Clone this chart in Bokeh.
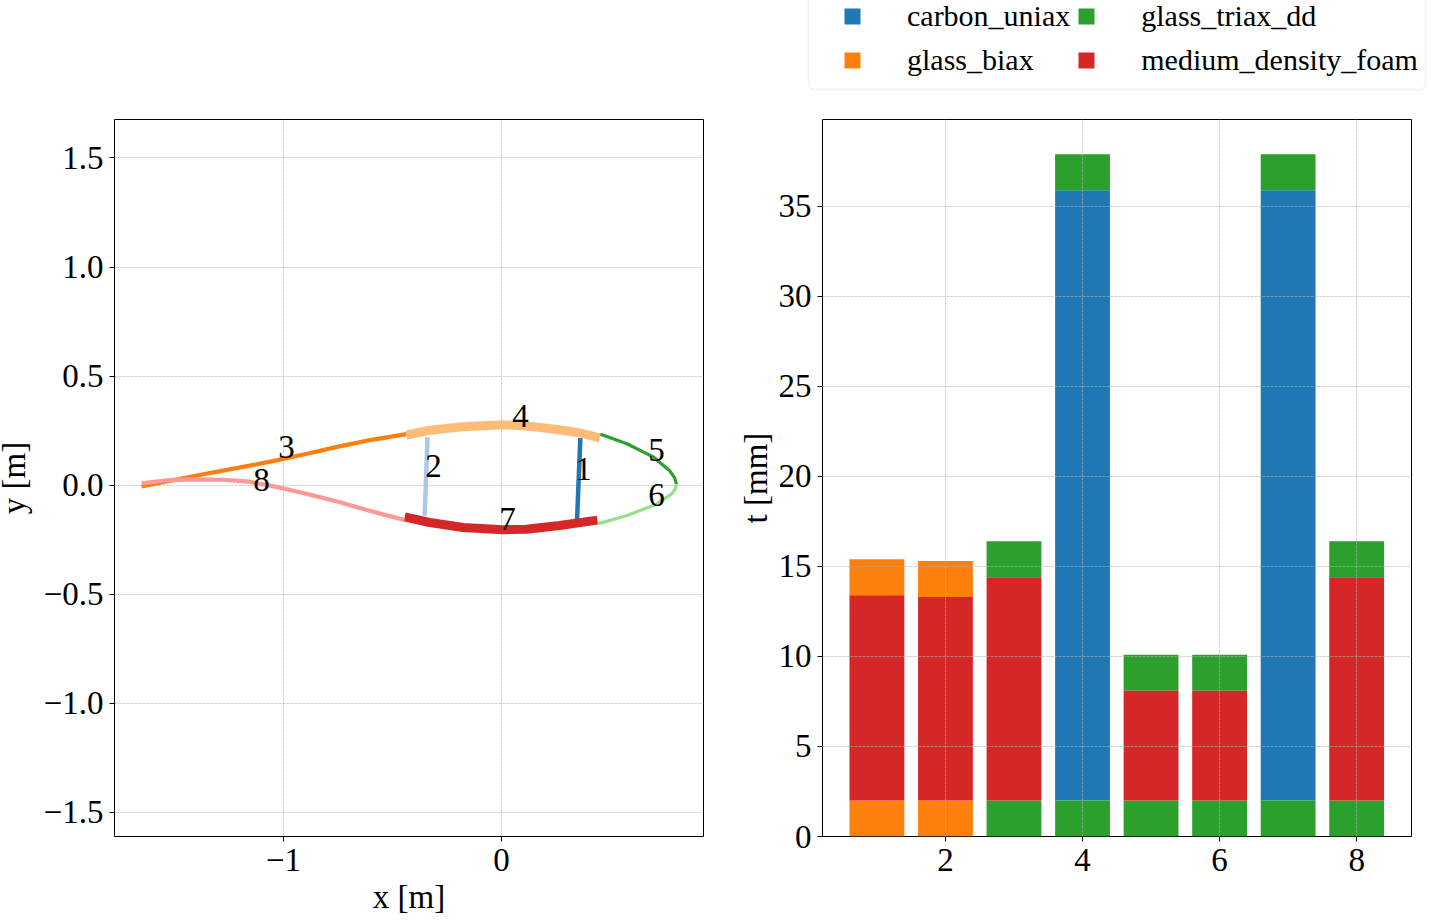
from bokeh.plotting import figure
from bokeh.layouts import row, column
from bokeh.models import FixedTicker, Legend, LegendItem, Range1d, BoxAnnotation
from bokeh.core.properties import value
from bokeh.embed import file_html
from bokeh.resources import INLINE

FONT = "Liberation Serif"

seg1_x = [0.362, 0.347]
seg1_y = [0.216, -0.158]
seg2_x = [-0.339, -0.352]
seg2_y = [0.219, -0.140]
seg3_x = [-1.651, -1.522, -1.368, -1.216, -1.055, -0.902, -0.749, -0.596, -0.436]
seg3_y = [-0.006, 0.020, 0.050, 0.078, 0.109, 0.142, 0.177, 0.208, 0.234]
seg4_x = [-0.436, -0.329, -0.176, 0.008, 0.115, 0.267, 0.367, 0.451]
seg4_y = [0.229, 0.252, 0.268, 0.277, 0.271, 0.254, 0.238, 0.217]
seg5_x = [0.454, 0.573, 0.696, 0.772, 0.794, 0.803]
seg5_y = [0.234, 0.191, 0.130, 0.066, 0.035, 0.005]
seg6_x = [0.803, 0.796, 0.780, 0.711, 0.573, 0.444]
seg6_y = [0.005, -0.020, -0.041, -0.087, -0.140, -0.176]
seg7_x = [0.440, 0.267, 0.115, 0.008, -0.176, -0.329, -0.444]
seg7_y = [-0.160, -0.185, -0.202, -0.204, -0.194, -0.171, -0.145]
seg8_x = [-0.444, -0.535, -0.642, -0.749, -0.856, -0.963, -1.055, -1.155, -1.277, -1.399, -1.522, -1.651]
seg8_y = [-0.159, -0.136, -0.107, -0.076, -0.049, -0.023, -0.003, 0.016, 0.025, 0.027, 0.023, 0.009]
seg_colors = ["#1f77b4", "#aec7e8", "#ff7f0e", "#ffbb78", "#2ca02c", "#98df8a", "#d62728", "#ff9896"]
seg_widths = [4.5, 4.5, 4.2, 9, 3.2, 3.2, 9, 4.2]

label_text = ["1", "2", "3", "4", "5", "6", "7", "8"]
label_x = [0.376, -0.312, -0.986, 0.087, 0.711, 0.711, 0.028, -1.101]
label_y = [0.076, 0.086, 0.173, 0.315, 0.162, -0.044, -0.153, 0.022]

left_xticks = [-1, 0]
left_yticks = [-1.5, -1.0, -0.5, 0.0, 0.5, 1.0, 1.5]
left_xlabels = {-1: "\u22121", 0: "0"}
left_ylabels = {-1.5: "\u22121.5", -1.0: "\u22121.0", -0.5: "\u22120.5", 0.0: "0.0", 0.5: "0.5", 1.0: "1.0", 1.5: "1.5"}

carbon_x = [4, 7]
carbon_bottom = [2, 2]
carbon_top = [35.9, 35.9]
biax_x = [1, 1, 2, 2]
biax_bottom = [0, 13.4, 0, 13.3]
biax_top = [2, 15.4, 2, 15.3]
triax_x = [3, 3, 4, 4, 5, 5, 6, 6, 7, 7, 8, 8]
triax_bottom = [0, 14.4, 0, 35.9, 0, 8.1, 0, 8.1, 0, 35.9, 0, 14.4]
triax_top = [2, 16.4, 2, 37.9, 2, 10.1, 2, 10.1, 2, 37.9, 2, 16.4]
foam_x = [1, 2, 3, 5, 6, 8]
foam_bottom = [2, 2, 2, 2, 2, 2]
foam_top = [13.4, 13.3, 14.4, 8.1, 8.1, 14.4]

right_xticks = [2, 4, 6, 8]
right_yticks = [0, 5, 10, 15, 20, 25, 30, 35]


def style(p):
    p.outline_line_color = "black"
    p.outline_line_width = 1
    p.background_fill_color = "white"
    p.border_fill_color = "white"
    for ax in (p.xaxis[0], p.yaxis[0]):
        ax.major_tick_in = 0
        ax.major_tick_out = 5
        ax.minor_tick_line_color = None
        ax.axis_line_color = None
        ax.major_tick_line_color = "black"
        ax.major_label_text_font = FONT
        ax.major_label_text_font_size = "33px"
        ax.major_label_text_color = "black"
        ax.major_label_standoff = 6
        ax.axis_label_text_font = FONT
        ax.axis_label_text_font_size = "33px"
        ax.axis_label_text_font_style = "normal"
        ax.axis_label_text_color = "black"
    for g in (p.xgrid[0], p.ygrid[0]):
        g.grid_line_color = "#b0b0b0"
        g.grid_line_width = 0.6
        g.grid_line_dash = "3 1"


left = figure(frame_width=589, frame_height=717, min_border_left=118, min_border_right=5,
              min_border_top=127, min_border_bottom=80, x_range=Range1d(-1.775, 0.927),
              y_range=Range1d(-1.61, 1.676), output_backend="svg", toolbar_location=None,
              x_axis_label="x [m]", y_axis_label="y [m]", frame_align=False)
style(left)
left.xaxis.ticker = FixedTicker(ticks=left_xticks)
left.yaxis.ticker = FixedTicker(ticks=left_yticks)
left.xaxis.major_label_overrides = left_xlabels
left.yaxis.major_label_overrides = left_ylabels
left.xaxis.major_label_standoff = 7
left.yaxis.axis_label_standoff = 9

segs = [(seg1_x, seg1_y), (seg2_x, seg2_y), (seg3_x, seg3_y), (seg4_x, seg4_y),
        (seg5_x, seg5_y), (seg6_x, seg6_y), (seg7_x, seg7_y), (seg8_x, seg8_y)]
for (sx, sy), c, w in zip(segs, seg_colors, seg_widths):
    left.line(sx, sy, line_color=c, line_width=w, line_cap="butt", line_join="round")
left.text(label_x, label_y, text=label_text, text_font=value(FONT), text_font_size="33px",
          text_align="center", text_baseline="middle", text_color="black")

right = figure(frame_width=589, frame_height=717, min_border_left=114, min_border_right=16,
               min_border_top=5, min_border_bottom=80, x_range=Range1d(0.206, 8.80),
               y_range=Range1d(0, 39.83), output_backend="svg", toolbar_location=None,
               y_axis_label="t [mm]", frame_align=False)
style(right)
right.xaxis.ticker = FixedTicker(ticks=right_xticks)
right.yaxis.ticker = FixedTicker(ticks=right_yticks)
right.xaxis.major_label_standoff = 7
right.yaxis.axis_label_standoff = 2
right.xgrid[0].level = "annotation"
right.ygrid[0].level = "annotation"

BW = 0.8
right.vbar(x=carbon_x, bottom=carbon_bottom, top=carbon_top, width=BW, fill_color="#1f77b4", line_color=None)
right.vbar(x=biax_x, bottom=biax_bottom, top=biax_top, width=BW, fill_color="#ff7f0e", line_color=None)
right.vbar(x=triax_x, bottom=triax_bottom, top=triax_top, width=BW, fill_color="#2ca02c", line_color=None)
right.vbar(x=foam_x, bottom=foam_bottom, top=foam_top, width=BW, fill_color="#d62728", line_color=None)

# strip above the right panel that carries the shared legend
strip = figure(width=719, height=122, min_border=0, x_range=Range1d(-100, -99), y_range=Range1d(-100, -99),
               output_backend="svg", toolbar_location=None, x_axis_location=None, y_axis_location=None,
               frame_align=False)
strip.grid.visible = False
strip.outline_line_color = None
l_carbon = strip.vbar(x=carbon_x, bottom=carbon_bottom, top=carbon_top, width=BW, fill_color="#1f77b4", line_color=None)
l_biax = strip.vbar(x=biax_x, bottom=biax_bottom, top=biax_top, width=BW, fill_color="#ff7f0e", line_color=None)
l_triax = strip.vbar(x=triax_x, bottom=triax_bottom, top=triax_top, width=BW, fill_color="#2ca02c", line_color=None)
l_foam = strip.vbar(x=foam_x, bottom=foam_bottom, top=foam_top, width=BW, fill_color="#d62728", line_color=None)
strip.add_layout(BoxAnnotation(left=100, right=717, top=1, bottom=97, left_units="canvas", right_units="canvas",
                               top_units="canvas", bottom_units="canvas", fill_color="white", fill_alpha=1.0,
                               line_color="#d5d5d5", line_width=1.5, border_radius=6, level="underlay"))
legend = Legend(items=[LegendItem(label="carbon_uniax", renderers=[l_carbon]),
                       LegendItem(label="glass_biax", renderers=[l_biax]),
                       LegendItem(label="glass_triax_dd", renderers=[l_triax]),
                       LegendItem(label="medium_density_foam", renderers=[l_foam])],
                ncols=2, orientation="vertical", location=(134, 35), margin=0, padding=0,
                spacing=6, label_standoff=45, glyph_width=20, glyph_height=20, label_height=38,
                label_text_font=FONT, label_text_font_size="30px", label_text_color="black",
                border_line_color=None, background_fill_color=None)
strip.add_layout(legend, "center")

page = row(left, column(strip, right, spacing=0), spacing=0, margin=(-8, 0, 0, -8))
open("out.html", "w").write(file_html(page, INLINE))
